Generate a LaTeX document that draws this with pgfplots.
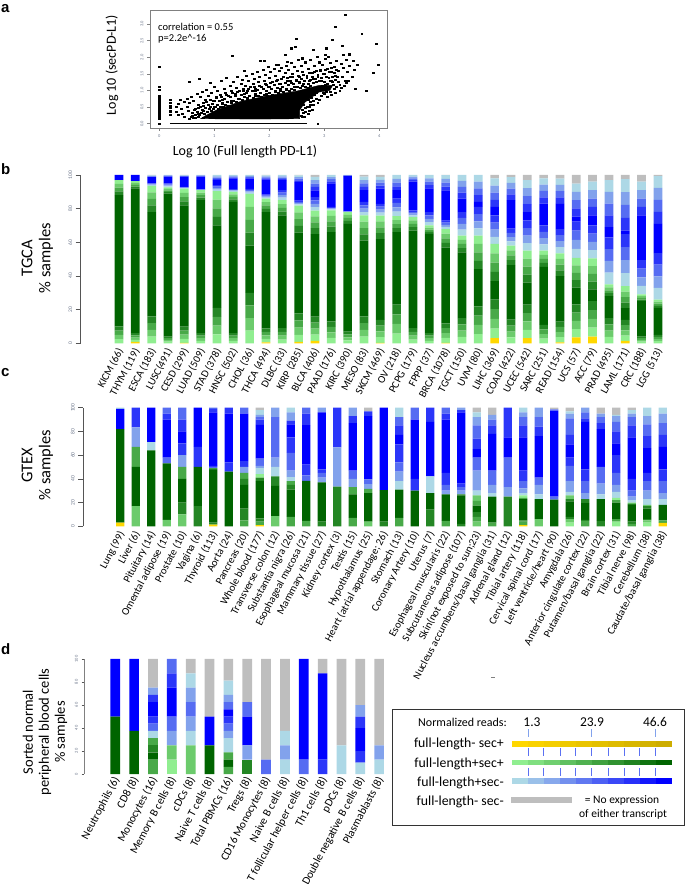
\documentclass[border=0pt]{standalone}
\usepackage{fontspec}
\setmainfont{Carlito}
\newfontfamily\arialfont{Liberation Sans}
\usepackage{pgfplots}
\usepackage{pgfplotstable}
\pgfplotsset{compat=1.18}

% colour ramps: gold, green up/down, blue up/down, grey
\definecolor{cau}{RGB}{255,215,0}
\definecolor{cg1}{RGB}{144,238,144}
\definecolor{cg2}{RGB}{108,203,108}
\definecolor{cg3}{RGB}{72,169,72}
\definecolor{cg4}{RGB}{36,134,36}
\definecolor{cG}{RGB}{0,100,0}
\colorlet{ch4}{cg4}
\colorlet{ch3}{cg3}
\colorlet{ch2}{cg2}
\colorlet{ch1}{cg1}
\definecolor{cb1}{RGB}{173,216,230}
\definecolor{cb2}{RGB}{130,162,236}
\definecolor{cb3}{RGB}{86,108,242}
\definecolor{cb4}{RGB}{43,54,249}
\definecolor{cB}{RGB}{0,0,255}
\colorlet{cc4}{cb4}
\colorlet{cc3}{cb3}
\colorlet{cc2}{cb2}
\colorlet{cc1}{cb1}
\definecolor{cgy}{RGB}{190,190,190}
\definecolor{axgray}{RGB}{85,85,85}
\definecolor{ticktext}{RGB}{110,120,140}

\pgfplotstableread{
au g1 g2 g3 g4 G h4 h3 h2 h1 b1 b2 b3 b4 B c4 c3 c2 c1 gy
0 2.5 2.5 2.5 2.5 78 2.25 2.25 2.25 2.25 0 0 0 0 3 0 0 0 0 0
.8 1.3 1.3 1.3 1.3 86 1.1 1.1 1.1 1.1 0 0 0 0 3.6 0 0 0 0 0
0 4 4 4 4 62 3.9 3.9 3.9 3.9 .4 .4 .4 .4 3.5 .25 .25 .25 .25 .3
0 1 1 1 1 85 .9 .9 .9 .9 .6 .6 .6 .6 4 .25 .25 .25 .25 0
.3 2.4 2.4 2.4 2.4 72 2.5 2.5 2.5 2.5 .25 .25 .25 .25 6 .25 .25 .25 .25 .1
0 1.5 1.5 1.5 1.5 79 1.5 1.5 1.5 1.5 .1 .1 .1 .1 7.6 .25 .25 .25 .25 0
0 5.25 5.25 5.25 5.25 49 5.1 5.1 5.1 5.1 .9 .9 .9 .9 3 .75 .75 .75 .75 0
0 1.5 1.5 1.5 1.5 78 1.5 1.5 1.5 1.5 .4 .4 .4 .4 6.4 .5 .5 .5 .5 0
0 7.5 7.5 7.5 7.5 28 7.7 7.7 7.7 7.7 .75 .75 .75 .75 6 .55 .55 .55 .55 0
.5 2.1 2.1 2.1 2.1 69 2 2 2 2 .6 .6 .6 .6 9.1 .6 .6 .6 .6 .2
0 2.25 2.25 2.25 2.25 67 2.25 2.25 2.25 2.25 1.5 1.5 1.5 1.5 6 .75 .75 .75 .75 0
.8 4.25 4.25 4.25 4.25 48 4 4 4 4 .75 .75 .75 .75 11 1 1 1 1 .2
1.5 3.6 3.6 3.6 3.6 49 3.5 3.5 3.5 3.5 2 2 2 2 4 2 2 2 2 1.1
0 3.25 3.25 3.25 3.25 53 3.25 3.25 3.25 3.25 .5 .5 .5 .5 14 1.25 1.25 1.25 1.25 0
0 1.75 1.75 1.75 1.75 64 1.75 1.75 1.75 1.75 .1 .1 .1 .1 21 .15 .15 .15 .15 0
0 4 4 4 4 45 3.75 3.75 3.75 3.75 2 2 2 2 7 2 2 2 2 1
.3 3.4 3.4 3.4 3.4 48 3.5 3.5 3.5 3.5 1.75 1.75 1.75 1.75 9 1.75 1.75 1.75 1.75 1.1
0 5.75 5.75 5.75 5.75 43 2.4 2.4 2.4 2.4 2.6 2.6 2.6 2.6 5 2.25 2.25 2.25 2.25 0
0 2.25 2.25 2.25 2.25 58 2 2 2 2 1 1 1 1 17 1 1 1 1 0
0 1.5 1.5 1.5 1.5 59 1.25 1.25 1.25 1.25 2 2 2 2 14 2 2 2 2 0
.3 2.9 2.9 2.9 2.9 45 2.75 2.75 2.75 2.75 1.25 1.25 1.25 1.25 18 2.25 2.25 2.25 2.25 .1
0 3.75 3.75 3.75 3.75 39 2.5 2.5 2.5 2.5 3.5 3.5 3.5 3.5 8 3.5 3.5 3.5 3.5 0
0 5.5 5.5 5.5 5.5 22 5 5 5 5 4.25 4.25 4.25 4.25 3 4 4 4 4 0
3 5.75 5.75 5.75 5.75 11 5.5 5.5 5.5 5.5 4.25 4.25 4.25 4.25 5 4.25 4.25 4.25 4.25 2
0 3.5 3.5 3.5 3.5 32.5 2.9 2.9 2.9 2.9 2.5 2.5 2.5 2.5 17 3.4 3.4 3.4 3.4 1.3
3 5 5 5 5 13 4.75 4.75 4.75 4.75 4.5 4.5 4.5 4.5 5 4.75 4.75 4.75 4.75 3
0 2.75 2.75 2.75 2.75 34.4 2.4 2.4 2.4 2.4 3.75 3.75 3.75 3.75 13 3.75 3.75 3.75 3.75 2
.5 3.1 3.1 3.1 3.1 27 3.4 3.4 3.4 3.4 3.6 3.6 3.6 3.6 15 3.75 3.75 3.75 3.75 2.1
3.5 4.9 4.9 4.9 4.9 10 4.4 4.4 4.4 4.4 5.4 5.4 5.4 5.4 3 4.9 4.9 4.9 4.9 5.1
4 5.25 5.25 5.25 5.25 7 4.6 4.6 4.6 4.6 4.9 4.9 4.9 4.9 6 5 5 5 5 4
0 3.75 3.75 3.75 3.75 13 1.75 1.75 1.75 1.75 7 7 7 7 6 7 7 7 7 3
1.5 3.1 3.1 3.1 3.1 7 3.25 3.25 3.25 3.25 7.75 7.75 7.75 7.75 2 7.65 7.65 7.65 7.65 2.5
0 1 1 1 1 21 1 1 1 1 5.1 5.1 5.1 5.1 26.6 5 5 5 5 4
0 1.25 1.25 1.25 1.25 16 1.25 1.25 1.25 1.25 6.9 6.9 6.9 6.9 17.4 7.1 7.1 7.1 7.1 .6
}\tcga

\pgfplotstableread{
au g1 g2 g3 g4 G h4 h3 h2 h1 b1 b2 b3 b4 B c4 c3 c2 c1 gy
3 0 0 0 0 79 0 0 0 0 0 0 0 0 17 0 0 0 1 0
0 0 17 0 0 33 0 17 0 0 0 16.5 0 0 0 16.5 0 0 0 0
0 0 0 0 0 64 0 0 0 0 7 0 0 0 29 0 0 0 0 0
0 0 5.5 0 0 47.5 0 0 0 0 0 0 5 0 32 5 5 0 0 0
0 0 10 0 10 20 0 10 0 0 0 10 0 10 10 10 10 0 0 0
0 0 0 0 17 33 0 0 0 0 0 0 0 17 33 0 0 0 0 0
1.5 0 0 0 1.5 44.5 1 .5 0 0 0 0 1 1 45 3 1 0 0 0
0 0 0 0 0 46 0 0 0 0 0 0 0 8 41 5 0 0 0 0
0 0 0 5 10 20 5 5 0 0 0 5 0 5 40 0 5 0 0 0
1 0 0 3 2.7 31.3 3 0 0 3 5 2 6 0 28.6 4.4 2 2 4 2
0 0 8.5 0 0 25.5 8 0 0 0 8 8 34 0 0 0 0 8 0 0
0 0 0 8 0 23 4 3 0 0 3.5 5.5 15 13 11 3 0 7 4 0
0 0 0 4.5 0 33.7 0 0 0 0 0 0 4.8 9 33.4 9.6 5 0 0 0
0 0 0 0 4 33 0 0 0 0 0 4 4 3 48 0 0 4 0 0
0 0 0 0 33.5 0 0 0 0 0 0 33 0 33.5 0 0 0 0 0 0
0 0 0 7 0 20 0 6 0 0 0 7 7 0 40 6 0 7 0 0
0 0 4 0 0 24 0 3.5 0 0 0 4 4 0 53.5 4 0 0 0 3
0 0 0 0 4 26.6 0 0 0 0 0 0 0 0 69.4 0 0 0 0 0
0 0 0 7 0 24 0 0 0 0 7 8 8 15 8 8 7 0 8 0
0 0 0 0 0 30 0 0 0 0 0 0 0 10 50 0 10 0 0 0
0 0 0 0 14 14 0 0 0 0 14 0 0 0 46 12 0 0 0 0
0 0 0 4.5 0 22.5 0 0 0 0 0 3 5 10 45 5 5 0 0 0
0 0 0 0 2 24 1 0 0 0 0 3 3 3 60 2 0 2 0 0
0 0 4 4 4 5.5 0 4 4.5 0 4 17 11 0 7 9 11 7 4 4
0 0 0 3 0 22 0 0 0 0 3 7 12 0 31 7 5 4 0 6
0 0 0 0 25 0 0 0 0 0 0 8 25 0 17 25 0 0 0 0
1 0 0 3 1 18 0 1 0 2 2 4 6 9 28 10 7 4 4 0
0 0 6 0 0 17 0 0 0 0 4 8 6 0 35 8 8 8 0 0
0 0 0 0 0 22.5 0 0 0 0 0 0 2.5 0 72.5 0 1 0 0 1.5
0 3 3 0 2 13 2 0 3 0 3 9 13 7 11 8 14 4 2 3
0 0 0 4.5 1 14 3.5 0 0 0 0 5 10 10 40 3 5 4 0 0
0 0 0 0 4.5 18.5 0 0 0 0 4 9 14 0 32 5 5 3 0 5
0 4 0 2 0 14 0 2 0 2 5 6 10 15 10 10 8 5 1 6
0 0 0 2 2 14 1 0 1 0 2 3 5 10 35 10 7 3 3 2
0 3 2 0 1 9 2 0 1 0 5 7 8 7 21 10 10 7 7 0
2.8 0 0 2.2 0 13 0 0 0 0 5 5 10 10 19 10 10 8 5 0
}\gtex

\pgfplotstableread{
au g1 g2 g3 g4 G h4 h3 h2 h1 b1 b2 b3 b4 B c4 c3 c2 c1 gy
0 0 0 0 0 50 0 0 0 0 0 0 0 0 50 0 0 0 0 0
0 0 0 0 0 37.5 0 0 0 0 0 0 0 0 62.5 0 0 0 0 0
0 0 0 12.5 0 6.25 6.25 6.25 0 0 6.25 0 6.25 6.25 12.5 6.25 0 6.25 0 25
0 12.5 12.5 0 0 0 0 0 0 0 0 12.5 12.5 0 25 12.5 12.5 0 0 0
0 0 25 0 0 0 0 0 0 0 12.5 12.5 12.5 0 0 0 0 12.5 12.5 12.5
0 0 0 0 0 25 0 0 0 0 0 0 0 0 25 0 0 0 0 50
0 0 0 6.25 0 6.25 0 6.25 0 0 12.5 6.25 6.25 6.25 6.25 0 6.25 6.25 12.5 18.75
0 0 0 0 12.5 0 0 0 0 0 0 12.5 0 0 25 0 12.5 0 0 37.5
0 0 0 0 0 0 0 0 0 0 0 0 12.5 0 0 0 0 0 0 87.5
0 0 0 0 0 0 0 0 0 0 12.5 12.5 0 0 0 0 0 0 12.5 62.5
0 0 0 0 0 0 0 0 0 0 0 0 12.5 0 87.5 0 0 0 0 0
0 0 0 0 0 0 0 0 0 0 0 0 0 12.5 75 0 0 0 0 12.5
0 0 0 0 0 0 0 0 0 0 25 0 0 0 0 0 0 0 0 75
0 0 0 0 0 0 0 0 0 0 10 0 0 10 20 10 0 10 0 40
0 0 0 0 0 0 0 0 0 0 12.5 12.5 0 0 0 0 0 0 0 75
}\pbmc

\newcommand{\stackseries}[1]{%
  \pgfplotsinvokeforeach{au,g1,g2,g3,g4,G,h4,h3,h2,h1,b1,b2,b3,b4,B,c4,c3,c2,c1,gy}{%
    \addplot[fill=c##1,draw=none] table[x expr=\coordindex,y=##1]{#1};
  }%
}

\pgfplotsset{
  barpanel/.style={
    scale only axis,
    anchor=south west,
    ybar stacked,
    axis lines*=left,
    x axis line style={draw=none},
    y axis line style={draw=axgray,line width=.9pt},
    xtick style={draw=none},
    ytick style={draw=axgray,line width=.7pt},
    tick align=outside,
    major tick length=5pt,
    ymin=0, ymax=100,
    ytick={0,20,40,60,80,100},
    yticklabels={0,20,40,60,80,100},
    yticklabel style={rotate=90,anchor=south,font=\fontsize{5.5}{6}\selectfont,text=ticktext,xshift=0pt},
    xticklabel style={rotate=62,anchor=east,font=\fontsize{10.7}{11}\selectfont,inner sep=1pt,yshift=-2pt,xshift=1pt},
  },
}

\begin{document}
\begin{tikzpicture}
\path[use as bounding box] (0pt,0pt) rectangle (685pt,884pt);

% panel a
\begin{axis}[
    at={(150pt,756pt)}, anchor=south west,
    scale only axis, width=237pt, height=118pt,
    xmin=-0.17, xmax=4.14, ymin=-0.13, ymax=3.42,
    axis line style={draw=gray,line width=.8pt},
    tick align=outside, major tick length=3pt,
    tick style={draw=gray,line width=.5pt},
    xtick pos=lower, ytick pos=left,
    xtick={0,1,2,3,4},
    ytick={0,0.5,1,1.5,2,2.5,3},
    xticklabels={0,1,2,3,4},
    yticklabels={0.0,0.5,1.0,1.5,2.0,2.5,3.0},
    tick label style={font=\fontsize{4.5}{5}\selectfont,text=ticktext},
    yticklabel style={rotate=90,anchor=south},
]
\addplot[fill=black,draw=black] coordinates {
 (0.75,0.15)(1.5,0.14)(2.0,0.14)(2.55,0.15)(2.55,0.4)(2.65,0.65)(2.9,0.95)(3.1,1.0)(3.15,1.15)
 (2.9,1.15)(2.5,0.98)(2.0,0.85)(1.5,0.68)(1.05,0.42)(0.85,0.25)
} --cycle;
\addplot[black,line width=1.3pt] coordinates {(0.19,0)(2.68,0)};
\addplot[only marks,mark=square*,mark size=0.7pt,mark options={draw=none,fill=black,xscale=1.4,yscale=.75},black] coordinates {
 (0,0)(0,.15)(0,.18)(0,.22)(0,.25)(0,.28)(0,.3)(0,.34)(0,.38)(0,.4)(0,.44)(0,.47)(0,.5)(0,.53)(0,.57)(0,.6)
 (0,.63)(0,.66)(0,.7)(0,.75)(0,.8)(0,.85)(0,1.03)(0,1.1)(0,1.7)(2.88,0)
 (.2,.28)(.2,.35)(.2,.4)(.2,.47)(.2,.55)(.2,.62)(.2,.72)(.3,.35)(.3,.52)(.35,.28)(.35,.6)(.38,.72)(.4,.45)
 (.42,.3)(.45,.65)(.46,.2)(.5,.5)(.5,.75)(.52,.38)(.54,1.27)(.55,.62)(.58,.82)(.6,.25)(.62,.7)(.65,.45)(.68,.9)
 (.7,.58)(.72,1.35)(.74,.8)(.78,.97)(.8,.62)(.83,.72)(.85,1.02)(.88,.85)(.92,1.22)(.95,.92)(.98,.7)(1,1.12)
 (1.03,.8)(1.06,1)(1.1,.88)(1.12,1.28)(1.15,.72)(1.18,1.05)(1.2,.93)(1.22,1.38)(1.25,.85)(1.28,1.15)(1.3,.98)
 (1.33,2.05)(1.35,1.25)(1.38,.9)(1.4,1.08)(1.42,1.42)(1.45,.98)(1.48,1.2)(1.5,1.32)(1.52,1.05)(1.55,1.6)
 (1.56,1.15)(1.58,1.45)(1.6,.98)(1.62,1.28)(1.65,1.1)(1.68,1.5)(1.7,1.2)(1.72,1.36)(1.75,1.05)(1.78,1.55)
 (1.8,1.25)(1.83,1.9)(1.82,1.42)(1.85,1.12)(1.88,1.62)(1.9,1.89)(1.9,1.3)(1.92,1.48)(1.95,1.18)(1.98,1.7)
 (2,1.38)(2.02,1.55)(2.05,1.25)(2.08,1.65)(2.1,1.45)(2.12,1.78)(2.15,1.32)(2.16,1.77)(2.18,1.58)(2.2,1.2)
 (2.22,1.68)(2.25,1.42)(2.28,2.07)(2.28,1.52)(2.3,1.75)(2.32,1.87)(2.33,1.28)(2.35,1.62)(2.38,1.4)(2.39,2.27)
 (2.4,1.82)(2.42,1.5)(2.45,1.7)(2.47,2.32)(2.48,2.57)(2.48,1.3)(2.5,1.58)(2.52,1.92)(2.55,1.42)(2.58,1.75)
 (2.59,1.97)(2.6,1.55)(2.62,1.2)(2.65,1.85)(2.68,1.45)(2.7,1.65)(2.72,1.28)(2.75,1.92)(2.78,1.52)(2.8,2.22)
 (2.8,1.35)(2.82,1.75)(2.85,1.58)(2.87,2.02)(2.88,1.42)(2.9,1.85)(2.92,1.62)(2.95,1.3)(2.97,1.78)(3,1.5)
 (3.01,2.07)(3.02,1.95)(3.04,2.27)(3.05,1.65)(3.07,2.02)(3.08,1.38)(3.1,1.82)(3.12,1.55)(3.15,2.54)(3.15,1.25)
 (3.18,1.72)(3.19,2.92)(3.2,1.45)(3.22,1.9)(3.25,1.6)(3.28,1.18)(3.3,1.8)(3.32,1.42)(3.33,2.35)(3.35,2.07)
 (3.35,1.68)(3.38,3.27)(3.38,1.3)(3.4,1.92)(3.42,1.55)(3.45,2.09)(3.46,1.75)(3.5,1.4)(3.53,1.89)(3.55,1.62)
 (3.56,1.05)(3.68,2.72)(3.77,.98)(3.89,1.54)(3.95,2.4)(3.98,1.76)(3.6,1.78)(3.28,.98)(3.18,1.05)
 (2.6,.2)(2.62,.32)(2.65,.48)(2.7,.3)(2.72,.5)(2.75,.65)(2.78,.42)(2.8,.58)(2.85,.75)(2.88,.62)(2.95,.85)
 (2.62,.8)(2.72,.82)(3,.9)(3.05,.8)(3.1,.95)(2.6,.95)(2.75,1.15)(2.9,1.1)(2.45,1.1)(2.3,1.05)(2.1,.98)(1.95,.9)
 (1.75,.85)(1.6,.78)(1.45,.75)(1.3,.68)(1.15,.6)(1,.52)(.9,.45)(.8,.38)(.7,.3)(.62,.18)(1.55,.9)(1.75,.98)
 (2,1.1)(2.2,1.05)(2.4,1.22)(2.55,1.25)(2.7,1.08)(2.85,1.25)(3.02,1.18)(3.12,1.3)(3.22,1.12)
 (.55,.16)(.58,.22)(.6,.32)(.63,.41)(.65,.17)(.66,.27)(.68,.36)(.7,.2)(.71,.47)(.73,.26)(.75,.52)(.76,.33)
 (.78,.42)(.8,.18)(.8,.55)(.82,.3)(.84,.47)(.85,.66)(.87,.36)(.88,.58)(.9,.28)(.92,.5)(.93,.72)(.95,.38)
 (.96,.6)(.98,.44)(1,.68)(1.02,.5)(1.04,.78)(1.06,.58)(1.07,.46)(1.09,.7)(1.1,.52)(1.12,.82)(1.14,.62)
 (1.16,.5)(1.18,.75)(1.2,.58)(1.22,.88)(1.24,.66)(1.26,.55)(1.28,.8)(1.3,.62)(1.32,.92)(1.34,.7)(1.36,.58)
 (1.38,.84)(1.4,.66)(1.42,.96)(1.44,.74)(1.46,.62)(1.48,.88)(1.5,.72)(1.52,1)(1.54,.8)(1.56,.66)(1.58,.92)
 (1.6,.74)(1.62,1.05)(1.64,.84)(1.66,.7)(1.68,.98)(1.7,.78)(1.72,1.1)(1.74,.9)(1.76,.76)(1.78,1.02)(1.8,.84)
 (1.82,1.14)(1.84,.94)(1.86,.8)(1.88,1.06)(1.9,.88)(1.92,1.2)(1.94,1)(1.96,.84)(1.98,1.12)(2,.92)(2.02,1.24)
 (2.04,1.04)(2.06,.88)(2.08,1.16)(2.1,.96)(2.12,1.3)(2.14,1.08)(2.16,.92)(2.18,1.2)(2.2,1)(2.22,1.34)(2.24,1.12)
 (2.26,.96)(2.28,1.24)(2.3,1.02)(2.32,1.38)(2.34,1.16)(2.36,1)(2.38,1.28)(2.4,1.06)(2.42,1.4)(2.44,1.2)(2.46,1.02)
 (2.48,1.32)(2.5,1.1)(2.52,1.44)(2.54,1.22)(2.56,1.08)(2.58,1.36)(2.6,1.14)(2.62,1.48)(2.64,1.28)(2.66,1.1)
 (2.68,1.38)(2.7,1.2)(2.72,1.52)(2.74,1.32)(2.76,1.02)(2.78,1.42)(2.8,1.24)(2.82,1.56)(2.84,1.36)(2.86,1.05)
 (2.88,1.48)(2.9,1.28)(2.92,1.58)(2.94,1.38)(2.96,1.14)(2.98,1.5)(3,1.26)(3.02,1.62)(3.04,1.4)(3.06,1.2)
 (3.08,1.55)(3.1,1.28)(3.12,1.68)(3.14,1.42)(3.16,1.18)(3.18,1.52)(3.2,1.32)(3.22,1.62)(3.24,1.4)(3.26,1.25)
 (2.58,.25)(2.6,.42)(2.62,.58)(2.64,.22)(2.66,.36)(2.68,.52)(2.7,.72)(2.72,.38)(2.74,.56)(2.76,.78)(2.8,.68)
 (2.82,.86)(2.86,.92)(2.9,.72)(2.98,.92)(3.04,.96)(3.12,.88)(3.2,.92)(3.3,1.08)(3.36,1.15)(3.4,1.22)(3.44,1.3)
};
\end{axis}

% panel b
\begin{axis}[barpanel,
    at={(80.7pt,540.7pt)}, width=589.3pt, height=168.3pt,
    xmin=-2.345, xmax=33.74, bar width=8.7pt,
    xtick={0,...,33},
    xticklabels={KICM (66),THYM (119),ESCA (183),LUSC(491),CESD (299),LUAD (509),STAD (378),HNSC (502),CHOL (36),THCA (494),DLBC (33),KIRP (285),BLCA (406),PAAD (176),KIRC (390),MESO (83),SKCM (469),OV (218),PCPG (179),FPPP (37),BRCA (1078),TGCT (150),UVM (80),LIHC (369),COAD (422),UCEC (542),SARC (251),READ (154),UCS (57),ACC (79),PRAD (495),LAML (171),CRC (188),LGG (513)},
]
\stackseries{\tcga}
\end{axis}

% panel c
\begin{axis}[barpanel,
    at={(83.3pt,357.7pt)}, width=588.7pt, height=118.6pt,
    xmin=-2.387, xmax=35.6, bar width=8.3pt,
    xtick={0,...,35},
    xticklabels={Lung (99),Liver (6),Pituitary (14),Omental adipose (19),Prostate (10),Vagina (6),Thyroid  (113),Aorta (24),Pancreas (20),Whole blood (177),Transverse colon (12),Substantia nigra (26),Esophageal mucosa (21),Mammary tissue (27),Kidney cortex (3),Testis (15),Hypothalamus (25),Heart (atrial appendage; 26),Stomach (13),Coronary Artery (10),Uterus (7),Esophageal muscularis (22),Subcutaneous adipose (107),Skin(not exposed to sun;23),Nucleus accumbens/basal ganglia (31),Adrenal gland (12),Tibial artery (118),Cervical spinal cord (17),Left ventricle/heart (90),Amygdala (26),Anterior cingulate cortex (22),Putamen/basal ganglia (22),Brain cortex (31),Tibial nerve (98),Cerebellum (38),Caudate/basal ganglia (38)},
]
\stackseries{\gtex}
\end{axis}

% panel d
\begin{axis}[barpanel,
    at={(84pt,110pt)}, width=304pt, height=115pt,
    xmin=-1.66, xmax=14.47, bar width=9.7pt,
    xtick={0,...,14},
    major tick length=2.5pt,
    y axis line style={draw=gray,line width=.7pt},
    yticklabel style={font=\fontsize{4.5}{5}\selectfont},
    xticklabel style={font=\fontsize{11.3}{12}\selectfont},
    xticklabels={Neutrophils (6),CD8 (8),Monocytes (16),Memory B cells (8),cDCs (8),Naive T cells (8),Total PBMCs (16),Tregs (8),CD16 Monocytes (8),Naive B cells (8),T follicular helper cells (8),Th1 cells (8),pDCs (8),Double negative B cells (8),Plasmablasts (8)},
]
\stackseries{\pbmc}
\end{axis}

% text and legend in pixel coordinates from the top left
\begin{scope}[x=1pt,y=-1pt,yshift=884pt]
\foreach \t/\yy in {a/9,b/169,c/373,d/649}
  \node[font=\arialfont\bfseries\fontsize{15}{15}\selectfont,anchor=west,inner sep=0pt] at (1,\yy) {\t};

\node[rotate=90,font=\fontsize{14}{15}\selectfont] at (112,65) {Log 10 (secPD-L1)};
\node[font=\fontsize{14}{15}\selectfont] at (245,152) {Log 10 (Full length PD-L1)};
\node[anchor=west,font=\fontsize{10.5}{11}\selectfont,inner sep=0pt] at (158,27) {correlation = 0.55};
\node[anchor=west,font=\fontsize{10.5}{11}\selectfont,inner sep=0pt] at (158,39) {p=2.2e\textasciicircum-16};

\node[rotate=90,font=\fontsize{16.5}{17}\selectfont] at (27,258) {TGCA};
\node[rotate=90,font=\fontsize{16.5}{17}\selectfont] at (46,258) {\% samples};
\node[rotate=90,font=\fontsize{16.5}{17}\selectfont] at (27,465) {GTEX};
\node[rotate=90,font=\fontsize{16.5}{17}\selectfont] at (46,465) {\% samples};
\node[rotate=90,font=\fontsize{14.5}{15}\selectfont] at (28,732) {Sorted normal};
\node[rotate=90,font=\fontsize{14.5}{15}\selectfont] at (45,732) {peripheral blood cells};
\node[rotate=90,font=\fontsize{14.5}{15}\selectfont] at (61,732) {\% samples};

\draw[gray,line width=.6pt] (491,677.5) -- (495,677.5);

\draw[black!80,line width=.9pt] (392,709) rectangle (684,825);
\node[anchor=west,inner sep=0pt,font=\fontsize{12}{13}\selectfont] at (418,722) {Normalized reads:};
\foreach \xx/\t in {532/1.3,592/23.9,655/46.6}
  \node[font=\fontsize{13.5}{14}\selectfont] at (\xx,722) {\t};
\foreach \xx in {528,591,655}
  \draw[cb2,line width=.8pt] (\xx,729) -- (\xx,737);
\foreach \xx in {528,543,560,575,591,608,624,639,655}{
  \draw[cb2!70!blue,line width=.7pt] (\xx,748) -- (\xx,756);
  \draw[cb2!70!blue,line width=.7pt] (\xx,768) -- (\xx,776);
}
\foreach \yy/\t in {744/full-length- sec+,764/full-length+sec+,783/full-length+sec-,802/full-length- sec-}
  \node[anchor=east,inner sep=0pt,font=\fontsize{13.8}{14}\selectfont] at (504,\yy) {\t};
% ramps with ten steps
\definecolor{cau2}{RGB}{205,173,0}
\foreach \i in {0,...,9}{
  \pgfmathsetmacro{\xa}{512+16*\i}
  \pgfmathsetmacro{\xb}{528+16*\i}
  \pgfmathsetmacro{\w}{\i*100/9}
  \fill[cB!\w!cb1] (\xa,778) rectangle (\xb,784);
  \fill[cG!\w!cg1] (\xa,760) rectangle (\xb,765.5);
  \fill[cau2!\w!cau] (\xa,741) rectangle (\xb,747);
}
\fill[cgy] (511,797) rectangle (572,803);
\node[font=\fontsize{11.5}{12}\selectfont] at (622,800) {= No expression};
\node[font=\fontsize{11.5}{12}\selectfont] at (623,814) {of either transcript};
\end{scope}
\end{tikzpicture}
\end{document}
